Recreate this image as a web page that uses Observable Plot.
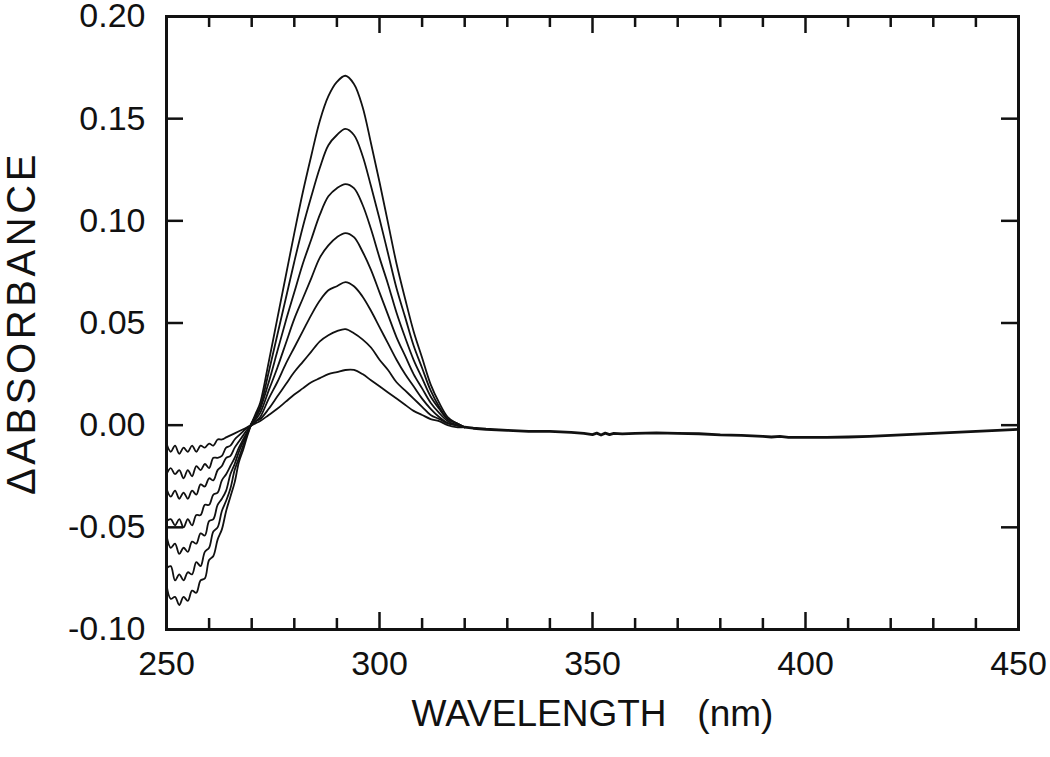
<!DOCTYPE html>
<html>
<head>
<meta charset="utf-8">
<script src="https://cdn.jsdelivr.net/npm/d3@7"></script>
<script src="https://cdn.jsdelivr.net/npm/@observablehq/plot@0.6"></script>
<style>
  html, body { margin: 0; padding: 0; background: #fff; }
</style>
</head>
<body>
<div id="chart"></div>
<script>
// Wavelengths (nm) shared by the seven difference spectra
const wavelengths = [250,251,252,253,254,255,256,257,258,259,260,261,262,263,264,265,266,267,268,269,270,271,
  272,274,276,278,280,282,284,286,288,290,292,294,296,298,300,302,304,306,308,310,312,314,316,318,320];

// ΔAbsorbance values for each spectrum (largest to smallest)
const c1 = [-0.078,-0.085,-0.084,-0.088,-0.084,-0.086,-0.081,-0.082,-0.076,-0.075,-0.066,-0.064,-0.056,-0.051,-0.042,-0.035,-0.028,-0.018,-0.012,-0.005,0.001,0.006,
  0.011,0.031,0.052,0.073,0.094,0.114,0.132,0.149,0.161,0.168,0.171,0.167,0.156,0.138,0.119,0.099,0.079,0.062,0.046,0.033,0.020,0.011,0.004,0.001,-0.001];
const c2 = [-0.070,-0.069,-0.076,-0.073,-0.076,-0.072,-0.073,-0.067,-0.069,-0.062,-0.060,-0.052,-0.050,-0.042,-0.037,-0.031,-0.022,-0.016,-0.010,-0.004,0.001,0.005,
  0.009,0.026,0.044,0.062,0.080,0.097,0.112,0.126,0.137,0.142,0.145,0.142,0.132,0.117,0.101,0.084,0.067,0.053,0.039,0.028,0.017,0.009,0.003,0.001,-0.001];
const c3 = [-0.054,-0.060,-0.058,-0.063,-0.060,-0.062,-0.057,-0.058,-0.053,-0.054,-0.047,-0.046,-0.039,-0.036,-0.032,-0.024,-0.019,-0.013,-0.008,-0.004,0.001,0.004,
  0.008,0.021,0.036,0.051,0.065,0.079,0.091,0.103,0.112,0.116,0.118,0.116,0.108,0.096,0.082,0.069,0.055,0.043,0.032,0.023,0.014,0.008,0.003,0.001,-0.001];
const c4 = [-0.047,-0.046,-0.049,-0.046,-0.050,-0.046,-0.049,-0.044,-0.044,-0.039,-0.039,-0.034,-0.033,-0.027,-0.024,-0.020,-0.016,-0.011,-0.007,-0.003,0.001,0.003,
  0.006,0.017,0.028,0.040,0.052,0.062,0.072,0.082,0.088,0.092,0.094,0.092,0.085,0.076,0.065,0.054,0.043,0.034,0.025,0.018,0.011,0.006,0.002,0.000,-0.001];
const c5 = [-0.031,-0.035,-0.032,-0.036,-0.033,-0.036,-0.032,-0.034,-0.029,-0.030,-0.026,-0.027,-0.022,-0.020,-0.016,-0.015,-0.011,-0.008,-0.005,-0.002,0.000,0.002,
  0.004,0.013,0.021,0.030,0.038,0.046,0.054,0.061,0.066,0.068,0.070,0.068,0.063,0.056,0.048,0.040,0.032,0.025,0.019,0.013,0.008,0.004,0.001,0.000,-0.001];
const c6 = [-0.024,-0.021,-0.024,-0.022,-0.026,-0.022,-0.025,-0.020,-0.022,-0.019,-0.021,-0.016,-0.016,-0.015,-0.011,-0.010,-0.007,-0.005,-0.003,-0.001,0.000,0.002,
  0.003,0.008,0.014,0.020,0.026,0.031,0.036,0.041,0.044,0.046,0.047,0.045,0.042,0.038,0.032,0.027,0.021,0.017,0.013,0.009,0.005,0.003,0.001,0.000,-0.001];
const c7 = [-0.009,-0.013,-0.010,-0.014,-0.011,-0.013,-0.010,-0.013,-0.010,-0.011,-0.009,-0.010,-0.007,-0.007,-0.006,-0.005,-0.004,-0.003,-0.002,-0.001,0.000,0.001,
  0.002,0.005,0.008,0.0115,0.015,0.018,0.021,0.023,0.025,0.026,0.027,0.027,0.025,0.022,0.019,0.016,0.013,0.010,0.007,0.005,0.003,0.002,0.000,-0.001,-0.001];

// Common baseline beyond 320 nm where all spectra coincide
const tailWl = [320,322,325,330,335,340,345,348,350,351,352,353,354,355,357,360,365,370,375,380,385,390,392,394,396,400,405,410,415,420,425,430,435,440,445,450];
const tailVal = [-0.001,-0.0015,-0.002,-0.0025,-0.003,-0.003,-0.0035,-0.004,-0.0046,-0.0039,-0.0048,-0.0039,-0.0046,-0.004,-0.0043,-0.004,-0.0038,-0.004,-0.0042,-0.0048,-0.005,-0.0055,-0.0058,-0.0055,-0.006,-0.006,-0.006,-0.0058,-0.0055,-0.005,-0.0045,-0.004,-0.0035,-0.003,-0.0025,-0.002];

// Axes
const xDomain = [250, 450];
const yDomain = [-0.10, 0.20];
const xMajor = [250, 300, 350, 400, 450];
const xMinor = [260,270,280,290,310,320,330,340,360,370,380,390,410,420,430,440];
const yTicks = [-0.10, -0.05, 0.00, 0.05, 0.10, 0.15, 0.20];
const xLabel = "WAVELENGTH\u00a0\u00a0\u00a0(nm)";
const yLabel = "ΔABSORBANCE";

const series = [c1, c2, c3, c4, c5, c6, c7];
const rows = series.flatMap((vals, k) => vals.map((v, i) => ({wl: wavelengths[i], v, s: "c" + (k + 1)})));
const tailRows = tailWl.map((w, i) => ({wl: w, v: tailVal[i]}));

const W = 1050, H = 757;
const mL = 166, mR = 32, mT = 16, mB = 128;
const innerW = W - mL - mR, innerH = H - mT - mB;
const majorLen = 17, minorLen = 11;
const ink = "#111";
const yTop = yDomain[1], yBot = yDomain[0];

const chart = Plot.plot({
  width: W, height: H,
  marginLeft: mL, marginRight: mR, marginTop: mT, marginBottom: mB,
  style: {fontFamily: "'Liberation Sans', Arial, Helvetica, sans-serif", fontSize: "34px", color: ink, background: "#fff", overflow: "visible"},
  x: {domain: xDomain, axis: null},
  y: {domain: yDomain, axis: null},
  marks: [
    // inward ticks: bottom
    Plot.ruleX(xMajor, {x: d => d, y1: yTop, y2: yBot, insetTop: innerH - majorLen, stroke: ink, strokeWidth: 2.5}),
    Plot.ruleX(xMinor, {x: d => d, y1: yTop, y2: yBot, insetTop: innerH - minorLen, stroke: ink, strokeWidth: 2.5}),
    // inward ticks: top
    Plot.ruleX(xMajor, {x: d => d, y1: yTop, y2: yBot, insetBottom: innerH - majorLen, stroke: ink, strokeWidth: 2.5}),
    Plot.ruleX(xMinor, {x: d => d, y1: yTop, y2: yBot, insetBottom: innerH - minorLen, stroke: ink, strokeWidth: 2.5}),
    // inward ticks: left & right
    Plot.ruleY(yTicks, {y: d => d, x1: xDomain[0], x2: xDomain[1], insetRight: innerW - majorLen, stroke: ink, strokeWidth: 2.5}),
    Plot.ruleY(yTicks, {y: d => d, x1: xDomain[0], x2: xDomain[1], insetLeft: innerW - majorLen, stroke: ink, strokeWidth: 2.5}),
    // spectra
    Plot.line(rows, {x: "wl", y: "v", z: "s", stroke: ink, strokeWidth: 1.8, curve: "catmull-rom"}),
    Plot.line(tailRows, {x: "wl", y: "v", stroke: ink, strokeWidth: 2.8}),
    Plot.frame({stroke: ink, strokeWidth: 3}),
    // tick labels
    Plot.axisX({ticks: xMajor, tickSize: 0, tickPadding: 21, tickFormat: d => String(d), label: null, fontSize: 34, fill: ink}),
    Plot.axisY({ticks: yTicks, tickSize: 0, tickPadding: 21, tickFormat: d => d.toFixed(2), label: null, fontSize: 34, fill: ink}),
    // axis titles
    Plot.text([xLabel], {text: d => d, frameAnchor: "bottom", dy: 85, lineAnchor: "middle", textAnchor: "middle", fontSize: 37, fill: ink}),
    Plot.text([yLabel], {text: d => d, frameAnchor: "left", dx: -144, rotate: -90, lineAnchor: "middle", textAnchor: "middle", fontSize: 40, fill: ink})
  ]
});
document.getElementById("chart").appendChild(chart);
// letter spacing for the rotated axis title
chart.querySelectorAll("text").forEach(t => { if (t.textContent === yLabel) t.setAttribute("letter-spacing", "3.6"); });
</script>
</body>
</html>
